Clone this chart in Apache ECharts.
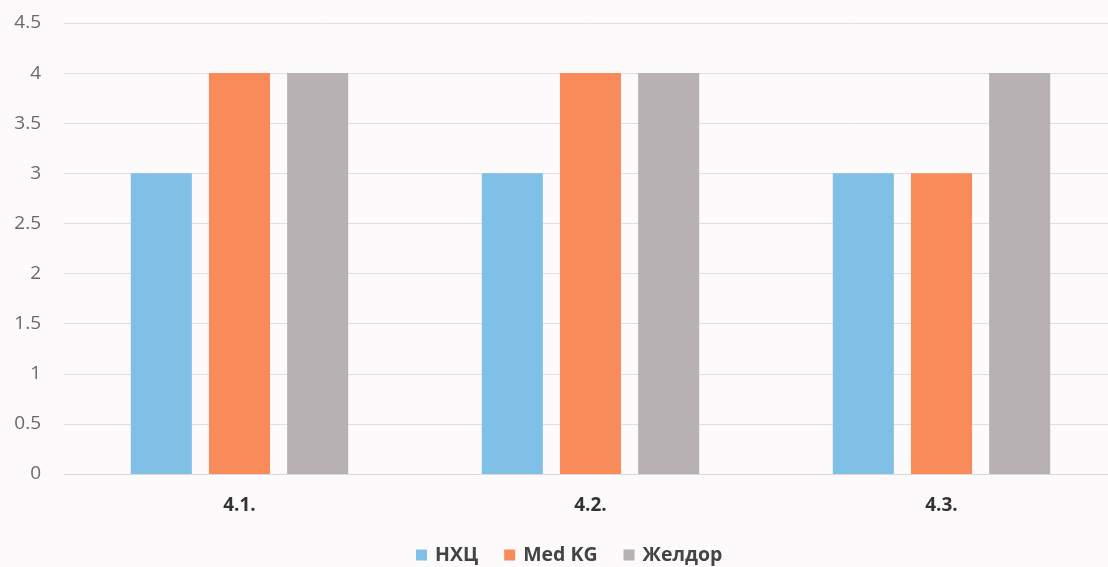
<!DOCTYPE html>
<html><head><meta charset="utf-8">
<script src="https://cdn.jsdelivr.net/npm/echarts@6/dist/echarts.min.js"></script>
<style>html,body{margin:0;padding:0;background:#fdfafb;overflow:hidden;width:1108px;height:567px;}#c{width:1120px;height:567px;}</style>
</head><body><div id="c"></div>
<script>
const categories = ['4.1.', '4.2.', '4.3.'];
const seriesNames = ['НХЦ', 'Med KG', 'Желдор'];
const nhc = [3, 3, 3];
const medkg = [4, 4, 3];
const zheldor = [4, 4, 4];
const yTicks = { min: 0, max: 4.5, interval: 0.5 };
const colors = ['#80bfe6', '#f98b5b', '#b8b1b3'];

const chart = echarts.init(document.getElementById('c'));
chart.setOption({
  backgroundColor: '#fdfafb',
  animation: false,
  color: colors,
  grid: { left: 64, right: 3, top: 23, bottom: 93 },
  legend: {
    bottom: -3,
    left: 411,
    itemWidth: 11, itemHeight: 11, itemGap: 26,
    icon: 'rect',
    textStyle: { fontSize: 19.5, fontWeight: 'bold', color: '#444', fontFamily: 'Open Sans', padding: [0, 0, 0, 3] },
    data: seriesNames
  },
  xAxis: {
    type: 'category',
    data: categories,
    axisLine: { show: true, lineStyle: { color: '#ddd8d9' } },
    axisTick: { show: false },
    axisLabel: { fontSize: 19, fontWeight: 'bold', color: '#333', margin: 22, fontFamily: 'Open Sans' }
  },
  yAxis: {
    type: 'value',
    min: yTicks.min, max: yTicks.max, interval: yTicks.interval,
    axisLine: { show: false },
    axisTick: { show: false },
    splitLine: { lineStyle: { color: '#e3dfe0', width: 1 } },
    axisLabel: { fontSize: 19, color: '#6a6a6a', margin: 23, fontFamily: 'Open Sans' }
  },
  series: [
    { name: seriesNames[0], type: 'bar', data: nhc, barWidth: '17.4%', barGap: '28%' },
    { name: seriesNames[1], type: 'bar', data: medkg, barWidth: '17.4%', barGap: '28%' },
    { name: seriesNames[2], type: 'bar', data: zheldor, barWidth: '17.4%', barGap: '28%' }
  ]
});
</script></body></html>
